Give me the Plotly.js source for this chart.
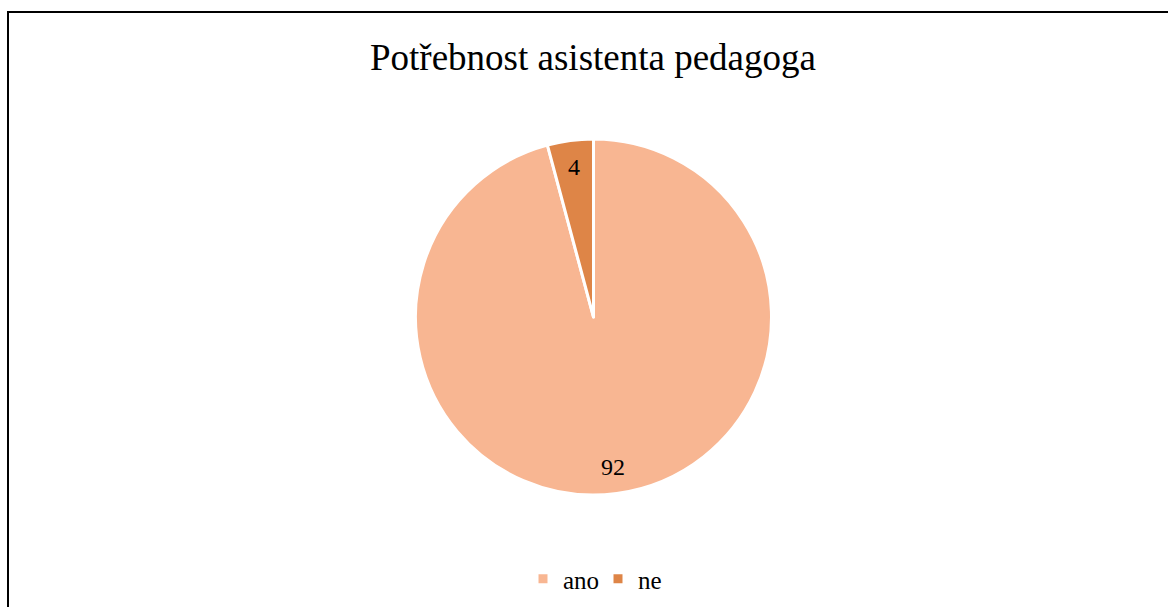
<!DOCTYPE html>
<html>
<head>
<meta charset="utf-8">
<script src="https://cdn.plot.ly/plotly-3.0.1.min.js"></script>
<style>
html,body{margin:0;padding:0;background:#fff;}
#chart{width:1168px;height:607px;}
</style>
</head>
<body>
<div id="chart"></div>
<script>
const categories = ["ano", "ne"];
const values = [92, 4];
const colors = ["#F8B692", "#DE8547"];
const chartTitle = "Potřebnost asistenta pedagoga";

const W = 1168, H = 607;
const cx = 593.5, cy = 317, r = 178;
const FONT = "Liberation Serif";

const trace = {
  type: "pie",
  labels: categories,
  values: values,
  sort: false,
  direction: "clockwise",
  rotation: 0,
  marker: {colors: colors, line: {color: "#ffffff", width: 3}},
  textinfo: "none",
  hoverinfo: "label+value",
  domain: {x: [(cx - r) / W, (cx + r) / W], y: [(H - cy - r) / H, (H - cy + r) / H]}
};

// data labels at each slice's mid-angle, derived from the values
const total = values.reduce((a, b) => a + b, 0);
const annotations = [];
let acc = 0;
values.forEach((v, i) => {
  const mid = (acc + v / 2) / total * 2 * Math.PI;
  acc += v;
  const rr = r * 0.85;
  const px = cx + rr * Math.sin(mid);
  const py = cy - rr * Math.cos(mid);
  annotations.push({
    xref: "paper", yref: "paper",
    x: px / W, y: 1 - py / H,
    xanchor: "center", yanchor: "middle",
    text: String(v), showarrow: false,
    font: {family: FONT, size: 24, color: "#000000"}
  });
});

const layout = {
  width: W, height: H,
  margin: {l: 0, r: 0, t: 0, b: 0},
  paper_bgcolor: "#ffffff",
  font: {family: FONT, color: "#000000"},
  title: {
    text: chartTitle,
    font: {family: FONT, size: 37, color: "#000000"},
    x: 593 / W, xanchor: "center",
    y: 1 - 57 / H, yanchor: "middle", yref: "container"
  },
  showlegend: true,
  legend: {
    orientation: "h",
    x: 598 / W, xanchor: "center",
    y: 1 - 579 / H, yanchor: "middle",
    font: {family: FONT, size: 25, color: "#000000"},
    itemwidth: 30,
    entrywidth: 30
  },
  annotations: annotations,
  shapes: [
    {type: "line", xref: "paper", yref: "paper", x0: 8 / W, x1: 8 / W, y0: -0.05, y1: 1 - 12 / H, line: {color: "#000000", width: 2}},
    {type: "line", xref: "paper", yref: "paper", x0: 7 / W, x1: 1.05, y0: 1 - 12 / H, y1: 1 - 12 / H, line: {color: "#000000", width: 2}}
  ]
};

Plotly.newPlot("chart", [trace], layout, {displayModeBar: false, staticPlot: true});
</script>
</body>
</html>
